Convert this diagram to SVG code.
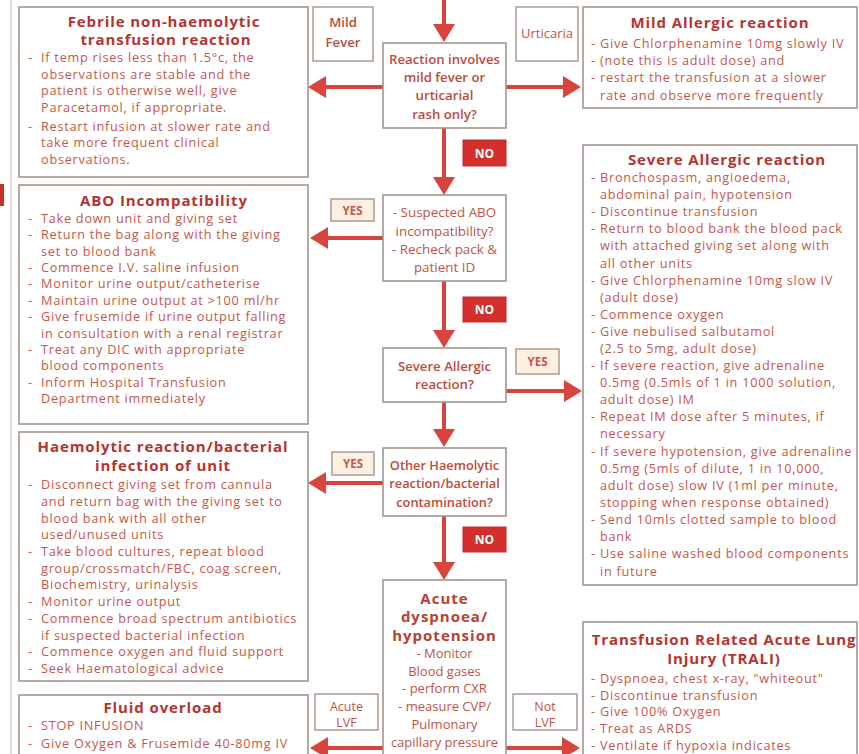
<svg xmlns="http://www.w3.org/2000/svg" width="859" height="754" viewBox="0 0 859 754">
<style>
.box{fill:#fff;stroke:#a3958b;stroke-width:1.6}
.lbl{fill:#fff;stroke:#a3958b;stroke-width:1.4}
.yes{fill:#fdf0e2;stroke:#a3958b;stroke-width:1.4}
.no{fill:#d32f2f;stroke:#c22a2a;stroke-width:1}
.t{font-family:"Open Sans","Noto Sans",sans-serif;font-size:12.7px;letter-spacing:0.75px;fill:#c4574b}
.h{font-family:"Open Sans","Noto Sans",sans-serif;font-size:15px;letter-spacing:0.9px;font-weight:700;fill:#b3342f;text-anchor:middle}
.c{font-family:"Open Sans","Noto Sans",sans-serif;font-size:13.4px;fill:#bf5446;text-anchor:middle}
.cb{font-family:"Open Sans","Noto Sans",sans-serif;font-size:13.2px;font-weight:600;fill:#bd4a3c;text-anchor:middle}
.big{font-family:"Open Sans","Noto Sans",sans-serif;font-size:15px;letter-spacing:1px;font-weight:700;fill:#b5412f;text-anchor:middle}
.nt{font-family:"Open Sans","Noto Sans",sans-serif;font-size:12px;font-weight:700;fill:#fff;text-anchor:middle}
.yt{font-family:"Open Sans","Noto Sans",sans-serif;font-size:11.5px;font-weight:700;fill:#c4574b;text-anchor:middle}
.conn{stroke:#d9443e;stroke-width:4;fill:none;marker-end:url(#ah)}
</style>
<defs>
<marker id="ah" markerUnits="userSpaceOnUse" markerWidth="20" markerHeight="24" refX="2" refY="11" orient="auto">
<path d="M0,0 L18,11 L0,22 z" fill="#d9443e"/>
</marker>
</defs>
<rect width="859" height="754" fill="#fff"/>
<line x1="11" y1="0" x2="11" y2="754" stroke="#d8d2cc" stroke-width="1.5"/>
<rect x="0" y="184" width="4" height="22" fill="#c9302c"/>

<g id="connectors">
<path class="conn" d="M444,0 V26"/>
<path class="conn" d="M383,87 H324"/>
<path class="conn" d="M506,87 H565"/>
<path class="conn" d="M444,128 V179"/>
<path class="conn" d="M383,238 H326"/>
<path class="conn" d="M444,281 V332"/>
<path class="conn" d="M506,391 H566"/>
<path class="conn" d="M444,402 V431"/>
<path class="conn" d="M383,483 H324"/>
<path class="conn" d="M444,516 V564"/>
<path class="conn" d="M383,748 H326"/>
<path class="conn" d="M506,748 H564"/>
</g>

<g id="febrile">
<rect class="box" x="19" y="7" width="289" height="170"/>
<text class="h" x="164" y="27">Febrile non-haemolytic</text>
<text class="h" x="166" y="45">transfusion reaction</text>
<text class="t"><tspan x="28" y="62">-</tspan><tspan x="41">If temp rises less than 1.5°c, the</tspan></text>
<text class="t" x="41" y="78.5">observations are stable and the</text>
<text class="t" x="41" y="95">patient is otherwise well, give</text>
<text class="t" x="41" y="111.5">Paracetamol, if appropriate.</text>
<text class="t"><tspan x="28" y="130.5">-</tspan><tspan x="41">Restart infusion at slower rate and</tspan></text>
<text class="t" x="41" y="147">take more frequent clinical</text>
<text class="t" x="41" y="163.5">observations.</text>
</g>

<g id="mild-fever">
<rect class="lbl" x="313" y="7" width="60" height="54"/>
<text class="cb" x="343" y="27">Mild</text>
<text class="cb" x="343" y="47">Fever</text>
</g>

<g id="q-reaction">
<rect class="box" x="383" y="43" width="123" height="85"/>
<text class="cb" x="444.5" y="64">Reaction involves</text>
<text class="cb" x="444.5" y="82">mild fever or</text>
<text class="cb" x="444.5" y="100">urticarial</text>
<text class="cb" x="444.5" y="119">rash only?</text>
</g>

<g id="urticaria">
<rect class="lbl" x="516" y="7" width="62" height="54"/>
<text class="c" x="547" y="38" style="font-size:13px">Urticaria</text>
</g>

<g id="mild-allergic">
<rect class="box" x="583" y="7" width="274" height="101"/>
<text class="h" x="720" y="28">Mild Allergic reaction</text>
<text class="t"><tspan x="591" y="48">-</tspan><tspan x="600">Give Chlorphenamine 10mg slowly IV</tspan></text>
<text class="t"><tspan x="591" y="64.5">-</tspan><tspan x="600">(note this is adult dose) and</tspan></text>
<text class="t"><tspan x="591" y="82">-</tspan><tspan x="600">restart the transfusion at a slower</tspan></text>
<text class="t" x="600" y="99.5">rate and observe more frequently</text>
</g>

<g id="no1">
<rect class="no" x="463" y="140" width="43" height="26"/>
<text class="nt" x="484.5" y="157.5">NO</text>
</g>

<g id="yes1">
<rect class="yes" x="331" y="199" width="43" height="22"/>
<text class="yt" x="352.5" y="214.5">YES</text>
</g>

<g id="q-abo">
<rect class="box" x="383" y="195" width="123" height="86"/>
<text class="c" x="444.5" y="217">- Suspected ABO</text>
<text class="c" x="444.5" y="236">incompatibility?</text>
<text class="c" x="444.5" y="254">- Recheck pack &amp;</text>
<text class="c" x="444.5" y="272">patient ID</text>
</g>

<g id="abo">
<rect class="box" x="19" y="185" width="289" height="239"/>
<text class="h" x="164" y="206">ABO Incompatibility</text>
<text class="t"><tspan x="28" y="223">-</tspan><tspan x="41">Take down unit and giving set</tspan></text>
<text class="t"><tspan x="28" y="239.4">-</tspan><tspan x="41">Return the bag along with the giving</tspan></text>
<text class="t" x="41" y="255.7">set to blood bank</text>
<text class="t"><tspan x="28" y="272.1">-</tspan><tspan x="41">Commence I.V. saline infusion</tspan></text>
<text class="t"><tspan x="28" y="288.4">-</tspan><tspan x="41">Monitor urine output/catheterise</tspan></text>
<text class="t"><tspan x="28" y="304.8">-</tspan><tspan x="41">Maintain urine output at &gt;100 ml/hr</tspan></text>
<text class="t"><tspan x="28" y="321.2">-</tspan><tspan x="41">Give frusemide if urine output falling</tspan></text>
<text class="t" x="41" y="337.5">in consultation with a renal registrar</text>
<text class="t"><tspan x="28" y="353.9">-</tspan><tspan x="41">Treat any DIC with appropriate</tspan></text>
<text class="t" x="41" y="370.2">blood components</text>
<text class="t"><tspan x="28" y="386.6">-</tspan><tspan x="41">Inform Hospital Transfusion</tspan></text>
<text class="t" x="41" y="403">Department immediately</text>
</g>

<g id="no2">
<rect class="no" x="463" y="297" width="43" height="25"/>
<text class="nt" x="484.5" y="314">NO</text>
</g>

<g id="q-severe">
<rect class="box" x="383" y="348" width="123" height="54"/>
<text class="cb" x="444.5" y="371">Severe Allergic</text>
<text class="cb" x="444.5" y="389">reaction?</text>
</g>

<g id="yes2">
<rect class="yes" x="516" y="349" width="43" height="25"/>
<text class="yt" x="537.5" y="366">YES</text>
</g>

<g id="severe-allergic">
<rect class="box" x="583" y="145" width="274" height="440"/>
<text class="h" x="727" y="165">Severe Allergic reaction</text>
<text class="t"><tspan x="591" y="182">-</tspan><tspan x="600">Bronchospasm, angioedema,</tspan></text>
<text class="t" x="600" y="199">abdominal pain, hypotension</text>
<text class="t"><tspan x="591" y="216">-</tspan><tspan x="600">Discontinue transfusion</tspan></text>
<text class="t"><tspan x="591" y="233">-</tspan><tspan x="600">Return to blood bank the blood pack</tspan></text>
<text class="t" x="600" y="250">with attached giving set along with</text>
<text class="t" x="600" y="268">all other units</text>
<text class="t"><tspan x="591" y="285">-</tspan><tspan x="600">Give Chlorphenamine 10mg slow IV</tspan></text>
<text class="t" x="600" y="302">(adult dose)</text>
<text class="t"><tspan x="591" y="319">-</tspan><tspan x="600">Commence oxygen</tspan></text>
<text class="t"><tspan x="591" y="336">-</tspan><tspan x="600">Give nebulised salbutamol</tspan></text>
<text class="t" x="600" y="353">(2.5 to 5mg, adult dose)</text>
<text class="t"><tspan x="591" y="370">-</tspan><tspan x="600">If severe reaction, give adrenaline</tspan></text>
<text class="t" x="600" y="387">0.5mg (0.5mls of 1 in 1000 solution,</text>
<text class="t" x="600" y="404">adult dose) IM</text>
<text class="t"><tspan x="591" y="421">-</tspan><tspan x="600">Repeat IM dose after 5 minutes, if</tspan></text>
<text class="t" x="600" y="438">necessary</text>
<text class="t"><tspan x="591" y="456">-</tspan><tspan x="600">If severe hypotension, give adrenaline</tspan></text>
<text class="t" x="600" y="473">0.5mg (5mls of dilute, 1 in 10,000,</text>
<text class="t" x="600" y="490">adult dose) slow IV (1ml per minute,</text>
<text class="t" x="600" y="507">stopping when response obtained)</text>
<text class="t"><tspan x="591" y="524">-</tspan><tspan x="600">Send 10mls clotted sample to blood</tspan></text>
<text class="t" x="600" y="541">bank</text>
<text class="t"><tspan x="591" y="558">-</tspan><tspan x="600">Use saline washed blood components</tspan></text>
<text class="t" x="600" y="576">in future</text>
</g>

<g id="yes3">
<rect class="yes" x="332" y="452" width="42" height="23"/>
<text class="yt" x="353" y="468">YES</text>
</g>

<g id="q-other">
<rect class="box" x="383" y="448" width="123" height="68"/>
<text class="cb" x="444.5" y="470" style="font-size:12.8px">Other Haemolytic</text>
<text class="cb" x="444.5" y="488" style="font-size:12.8px">reaction/bacterial</text>
<text class="cb" x="444.5" y="507" style="font-size:12.8px">contamination?</text>
</g>

<g id="haemolytic">
<rect class="box" x="19" y="432" width="289" height="249"/>
<text class="h" x="163" y="451.5">Haemolytic reaction/bacterial</text>
<text class="h" x="163" y="471">infection of unit</text>
<text class="t"><tspan x="28" y="489">-</tspan><tspan x="41">Disconnect giving set from cannula</tspan></text>
<text class="t" x="41" y="505.7">and return bag with the giving set to</text>
<text class="t" x="41" y="522.5">blood bank with all other</text>
<text class="t" x="41" y="539.2">used/unused units</text>
<text class="t"><tspan x="28" y="555.9">-</tspan><tspan x="41">Take blood cultures, repeat blood</tspan></text>
<text class="t" x="41" y="572.6">group/crossmatch/FBC, coag screen,</text>
<text class="t" x="41" y="589.4">Biochemistry, urinalysis</text>
<text class="t"><tspan x="28" y="606.1">-</tspan><tspan x="41">Monitor urine output</tspan></text>
<text class="t"><tspan x="28" y="622.8">-</tspan><tspan x="41">Commence broad spectrum antibiotics</tspan></text>
<text class="t" x="41" y="639.6">if suspected bacterial infection</text>
<text class="t"><tspan x="28" y="656.3">-</tspan><tspan x="41">Commence oxygen and fluid support</tspan></text>
<text class="t"><tspan x="28" y="673">-</tspan><tspan x="41">Seek Haematological advice</tspan></text>
</g>

<g id="no3">
<rect class="no" x="463" y="527" width="43" height="25"/>
<text class="nt" x="484.5" y="544">NO</text>
</g>

<g id="acute">
<rect class="box" x="383" y="580" width="123" height="180"/>
<text class="big" x="444.5" y="603.5">Acute</text>
<text class="big" x="444.5" y="622">dyspnoea/</text>
<text class="big" x="444.5" y="640.5">hypotension</text>
<text class="c" x="444.5" y="658" style="font-size:13px">- Monitor</text>
<text class="c" x="444.5" y="676" style="font-size:13px">Blood gases</text>
<text class="c" x="444.5" y="693" style="font-size:13px">- perform CXR</text>
<text class="c" x="444.5" y="711" style="font-size:13px">- measure CVP/</text>
<text class="c" x="444.5" y="729" style="font-size:13px">Pulmonary</text>
<text class="c" x="444.5" y="747" style="font-size:13px">capillary pressure</text>
</g>

<g id="acute-lvf">
<rect class="lbl" x="315" y="694" width="63" height="36"/>
<text class="c" x="346.5" y="711" style="font-size:12.5px">Acute</text>
<text class="c" x="346.5" y="727" style="font-size:12.5px">LVF</text>
</g>

<g id="not-lvf">
<rect class="lbl" x="513" y="694" width="64" height="36"/>
<text class="c" x="545" y="711" style="font-size:12.5px">Not</text>
<text class="c" x="545" y="727" style="font-size:12.5px">LVF</text>
</g>

<g id="fluid-overload">
<rect class="box" x="19" y="695" width="289" height="70"/>
<text class="h" x="163" y="713">Fluid overload</text>
<text class="t"><tspan x="28" y="730">-</tspan><tspan x="41">STOP INFUSION</tspan></text>
<text class="t"><tspan x="28" y="748">-</tspan><tspan x="41">Give Oxygen &amp; Frusemide 40-80mg IV</tspan></text>
</g>

<g id="trali">
<rect class="box" x="583" y="622" width="274" height="140"/>
<text class="h" x="724" y="645">Transfusion Related Acute Lung</text>
<text class="h" x="724" y="664">Injury (TRALI)</text>
<text class="t"><tspan x="591" y="683">-</tspan><tspan x="600">Dyspnoea, chest x-ray, "whiteout"</tspan></text>
<text class="t"><tspan x="591" y="699.5">-</tspan><tspan x="600">Discontinue transfusion</tspan></text>
<text class="t"><tspan x="591" y="716">-</tspan><tspan x="600">Give 100% Oxygen</tspan></text>
<text class="t"><tspan x="591" y="733">-</tspan><tspan x="600">Treat as ARDS</tspan></text>
<text class="t"><tspan x="591" y="750">-</tspan><tspan x="600">Ventilate if hypoxia indicates</tspan></text>
</g>
</svg>
